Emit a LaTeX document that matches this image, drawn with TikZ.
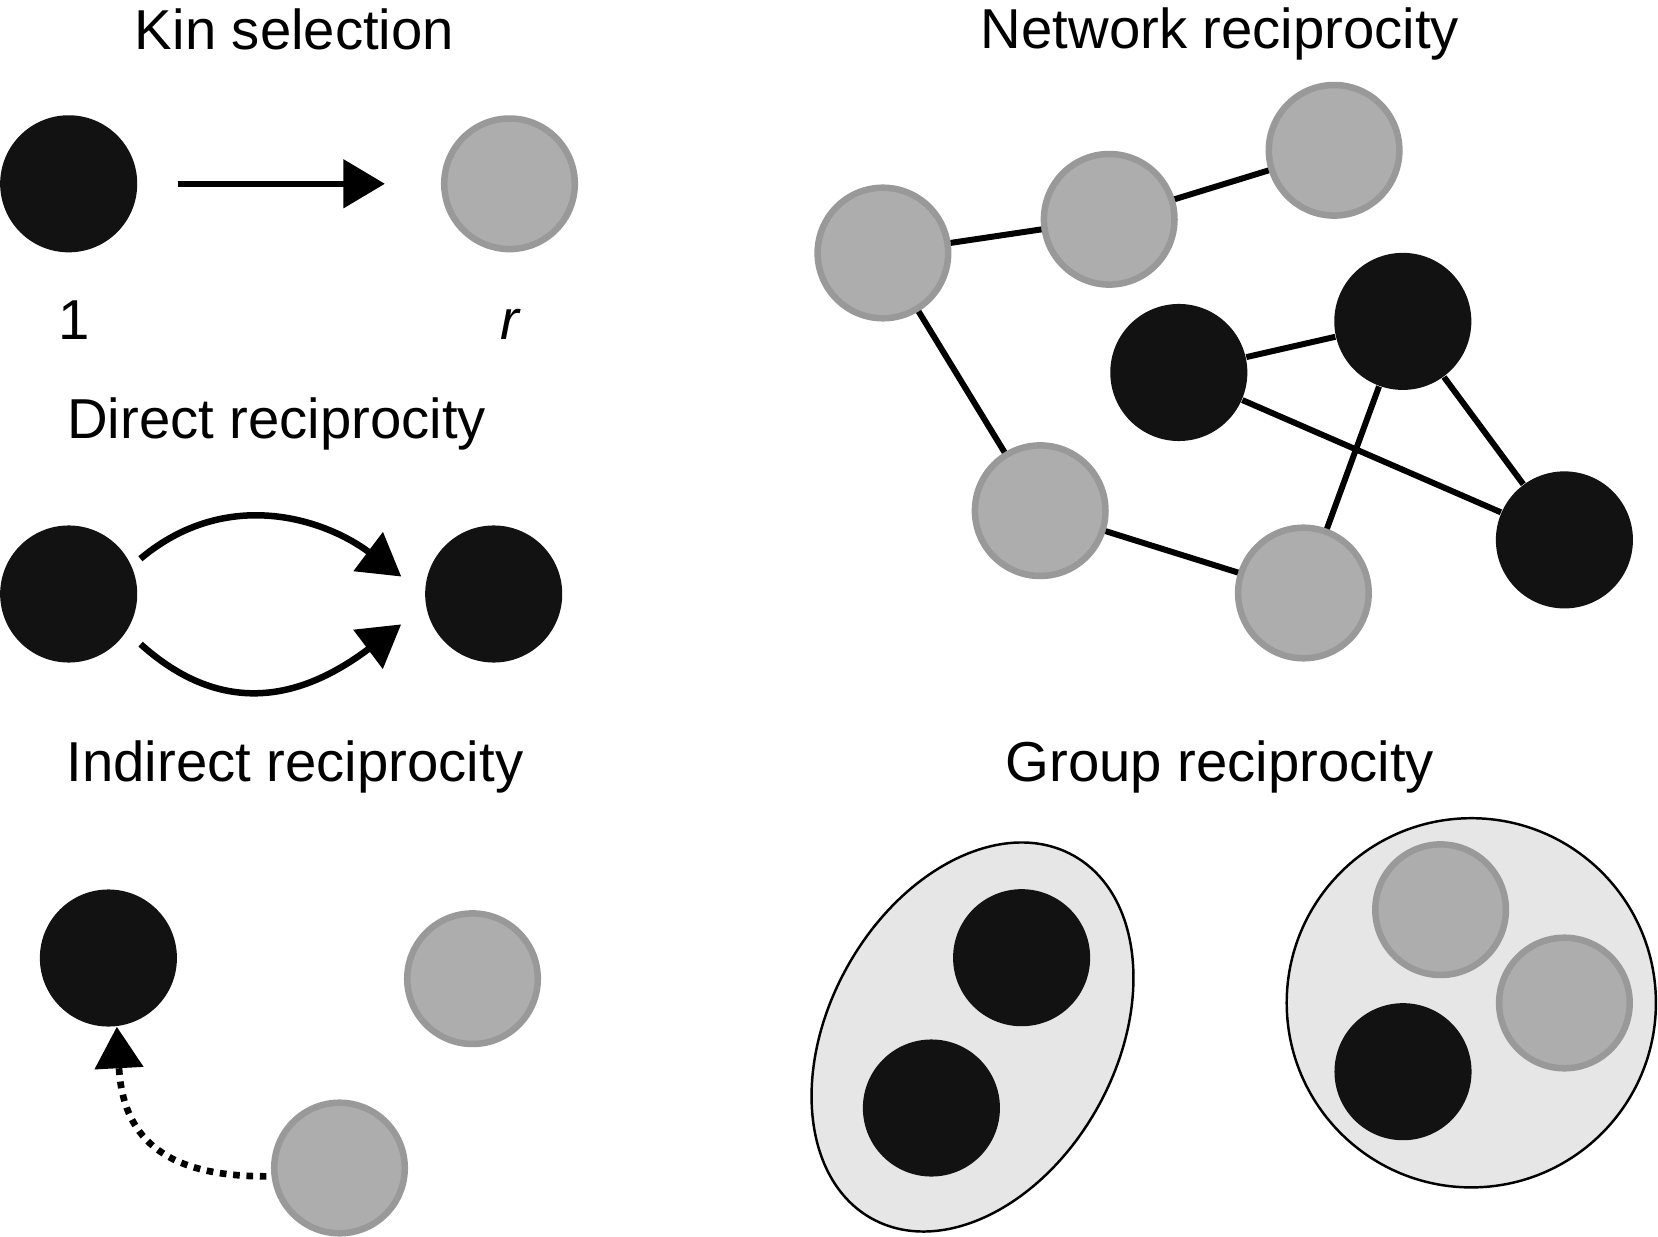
\documentclass[tikz,border=0pt]{standalone}
\usepackage{fontspec}
\setmainfont{Liberation Sans}
\usetikzlibrary{arrows.meta,shapes.geometric}
\definecolor{blk}{HTML}{121212}
\definecolor{gfill}{HTML}{ADADAD}
\definecolor{gline}{HTML}{999999}
\definecolor{grp}{HTML}{E6E6E6}
\begin{document}
\begin{tikzpicture}[x=0.01cm,y=0.01cm,
  blackdot/.style={circle,fill=blk,draw=none,minimum size=1.37cm,inner sep=0pt},
  greydot/.style={circle,fill=gfill,draw=gline,line width=1.85pt,minimum size=1.305cm,inner sep=0pt},
  ttl/.style={font=\fontsize{16}{19}\selectfont,inner sep=0pt,anchor=base},
  lbl/.style={font=\fontsize{16}{19}\selectfont,inner sep=0pt,anchor=base},
  arr/.style={line width=1.85pt,-{Triangle[length=11.8pt,width=13.5pt]}},
  dotarr/.style={line width=1.9pt,dash pattern=on 1.9pt off 1.9pt,-{Triangle[length=11.8pt,width=13.5pt]}},
  edge/.style={line width=1.7pt},
  grpshape/.style={draw=black,line width=0.7pt,fill=grp,inner sep=0pt}]
\useasboundingbox (0,0) rectangle (1658,-1237);

% ---------- Kin selection
\node[ttl] (tkin) at (294.5,-49.4) {Kin selection};
\node[blackdot] (k1) at (68.7,-183.8) {};
\node[greydot] (k2) at (509.5,-183.8) {};
\draw[arr,shorten <=0.397cm,shorten >=0.56cm] (k1) -- (k2);
\node[lbl] (l1) at (74.3,-339.3) {1};
\node[lbl] (lr) at (509.5,-339.3) {\itshape r};

% ---------- Direct reciprocity
\node[ttl,anchor=base west] (tdir) at (66.5,-439) {Direct reciprocity};
\node[blackdot] (d1) at (68.7,-594) {};
\node[blackdot] (d2) at (493.7,-594) {};
\draw[arr,shorten <=0.11cm,shorten >=0.29cm] (d1.24) to[out=40,in=143,looseness=1.08] (d2.180);
\draw[arr,shorten <=0.186cm,shorten >=0.305cm] (d1.-33) to[out=-42,in=-143,looseness=1.2] (d2.190);

% ---------- Indirect reciprocity
\node[ttl,anchor=base west] (tind) at (66,-781) {Indirect reciprocity};
\node[blackdot] (ib) at (108.4,-958) {};
\node[greydot] (ig1) at (472.5,-978.7) {};
\node[greydot] (ig2) at (339.5,-1168) {};
\draw[dotarr,shorten <=0.05cm] (ig2.187) to[out=180,in=-87,looseness=1.3] (ib.-83);

% ---------- Network reciprocity
\node[ttl] (tnet) at (1220,-48.6) {Network reciprocity};
\node[greydot] (n1) at (882.9,-253) {};
\node[greydot] (n2) at (1109.2,-219.3) {};
\node[greydot] (n3) at (1334.1,-150.3) {};
\node[blackdot] (n4) at (1178.8,-372.5) {};
\node[blackdot] (n5) at (1402.8,-321.4) {};
\node[greydot] (n6) at (1040.2,-510.7) {};
\node[greydot] (n7) at (1303.4,-593) {};
\node[blackdot] (n8) at (1564.4,-539.9) {};
\draw[edge] (n1) -- (n2);
\draw[edge] (n2) -- (n3);
\draw[edge] (n1) -- (n6);
\draw[edge] (n6) -- (n7);
\draw[edge] (n4) -- (n5);
\draw[edge] (n4) -- (n8);
\draw[edge] (n5) -- (n7);
\draw[edge] (n5) -- (n8);

% ---------- Group reciprocity
\node[ttl] (tgrp) at (1220,-781.2) {Group reciprocity};
\node[grpshape,ellipse,minimum width=2.87cm,minimum height=4.15cm,rotate=-29] (g1) at (972.5,-1037) {};
\node[blackdot] (g1a) at (1021.6,-957.7) {};
\node[blackdot] (g1b) at (931.4,-1108) {};
\node[grpshape,circle,minimum size=3.69cm] (g2) at (1471.3,-1002.8) {};
\node[greydot] (g2a) at (1440.6,-909.7) {};
\node[greydot] (g2b) at (1564.4,-1003) {};
\node[blackdot] (g2c) at (1403,-1071.7) {};
\end{tikzpicture}
\end{document}
